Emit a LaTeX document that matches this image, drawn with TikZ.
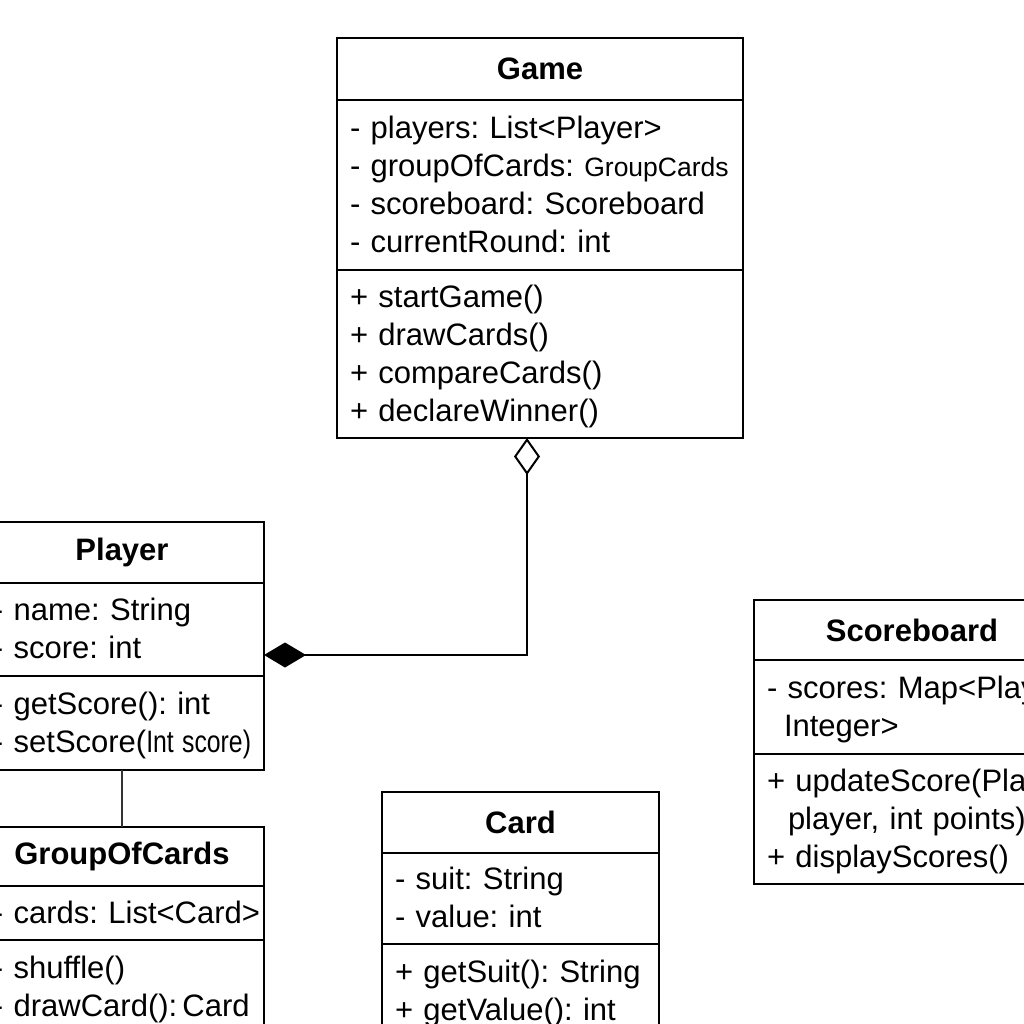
\documentclass[tikz,border=0pt]{standalone}
\usepackage{fontspec}
\setmainfont{Liberation Sans}
\usepackage{graphicx}
\usetikzlibrary{arrows.meta, positioning}
\newcommand{\umlf}{\fontsize{31}{38}\selectfont\frenchspacing}
\newcommand{\rows}[1]{\raisebox{-2.5pt}[\height][\depth]{\begin{tabular}{@{}l@{}}#1\end{tabular}}}

\begin{document}
\begin{tikzpicture}[x=1pt, y=-1pt,
  cname/.style={draw, line width=2pt, outer sep=0pt, inner sep=0pt, font=\umlf\bfseries, align=center},
  cpart/.style={draw, line width=2pt, outer sep=0pt, inner xsep=13pt, inner ysep=0pt, font=\umlf, align=left},
  aggr/.style={line width=2.5pt, {Diamond[open, length=37pt, width=26pt, line width=2pt]}-{Diamond[length=42pt, width=25pt]}},
  assoc/.style={line width=1.3pt, black!80}]
\fill[white] (0,0) rectangle (1024,1024);
\useasboundingbox (0,0) rectangle (1024,1024);
\clip (0,0) rectangle (1024,1024);

% Game
\node[cname, text width=406pt, minimum height=62pt, anchor=north west] (gamename) at (337,38) {Game};
\node[cpart, text width=380pt, minimum height=170pt, below=0pt of gamename] (gameattr) {\rows{- players: List<Player>\\- groupOfCards: {\fontsize{26.5}{38}\selectfont GroupCards}\\- scoreboard: Scoreboard\\- currentRound: int}};
\node[cpart, text width=380pt, minimum height=168pt, below=0pt of gameattr] (gamemeth) {\rows{+ startGame()\\+ drawCards()\\+ compareCards()\\+ declareWinner()}};

% Player
\node[cname, text width=284pt, minimum height=61pt, anchor=north west] (playername) at (-20,522) {Player};
\node[cpart, text width=258pt, minimum height=93pt, below=0pt of playername] (playerattr) {\rows{- name: String\\- score: int}};
\node[cpart, text width=258pt, minimum height=94pt, below=0pt of playerattr] (playermeth) {\rows{- getScore(): int\\- setScore(\scalebox{0.8}[1]{Int score)}}};

% GroupOfCards
\node[cname, text width=284pt, minimum height=59pt, anchor=north west] (groupname) at (-20,827) {GroupOfCards};
\node[cpart, text width=258pt, minimum height=54pt, below=0pt of groupname] (groupattr) {\rows{- cards: List<Card>}};
\node[cpart, text width=258pt, minimum height=94pt, below=0pt of groupattr] (groupmeth) {\rows{- shuffle()\\- drawCard():\,Card}};

% Card
\node[cname, text width=277pt, minimum height=61pt, anchor=north west] (cardname) at (382,792) {Card};
\node[cpart, text width=251pt, minimum height=91pt, below=0pt of cardname] (cardattr) {\rows{- suit: String\\- value: int}};
\node[cpart, text width=251pt, minimum height=94pt, below=0pt of cardattr] (cardmeth) {\rows{+ getSuit(): String\\+ getValue(): int}};

% Scoreboard
\node[cname, text width=316pt, minimum height=60pt, anchor=north west] (scorename) at (754,600) {Scoreboard};
\node[cpart, text width=290pt, minimum height=94pt, below=0pt of scorename] (scoreattr) {\rows{- scores: Map<Player,\\\hspace*{17pt}Integer>}};
\node[cpart, text width=290pt, minimum height=130pt, below=0pt of scoreattr] (scoremeth) {\rows{+ updateScore(Player\\\hspace*{21pt}player, int points)\\+ displayScores()}};

% Verbindungen
\draw[aggr] ([xshift=-13pt]gamemeth.south) |- ([yshift=-25.5pt]playerattr.east);
\draw[assoc] (playermeth.south) -- (groupname.north);
\end{tikzpicture}
\end{document}
